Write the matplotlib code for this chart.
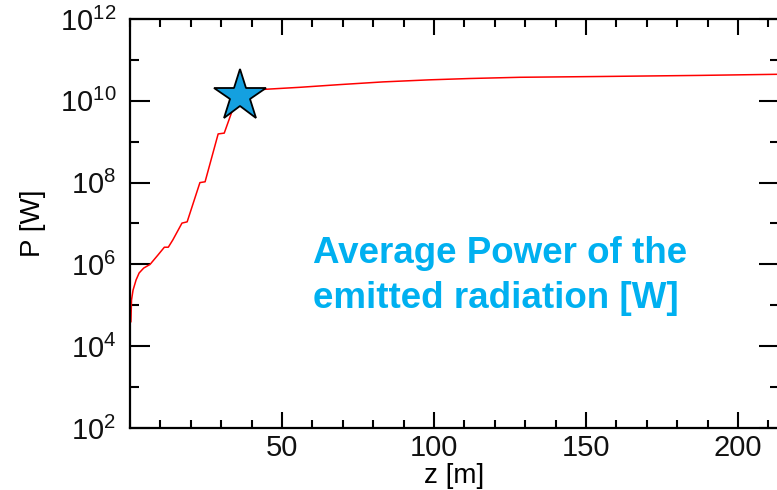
import matplotlib
matplotlib.use("Agg")
import matplotlib.pyplot as plt
from matplotlib.ticker import FixedLocator, FixedFormatter, MultipleLocator

plt.rcParams['font.family'] = ['Liberation Sans', 'DejaVu Sans']
plt.rcParams['mathtext.fontset'] = 'custom'
plt.rcParams['mathtext.rm'] = 'Liberation Sans'
plt.rcParams['mathtext.it'] = 'Liberation Sans:italic'
plt.rcParams['mathtext.bf'] = 'Liberation Sans:bold'

# Undulator coordinate z [m] and average radiated power P [W] (log10)
z = [0.3, 0.5, 1.0, 2.0, 3.0, 4.5, 6.6, 9.2, 11.3, 12.6, 14.1, 17.1, 18.8,
     23.0, 24.7, 29.0, 31.0, 33.5, 36.2, 40.0, 44.4, 55.9, 69.0, 83.2, 98.7,
     111.8, 128.3, 154.6, 187.5, 213.0]
log_p = [4.6, 5.13, 5.37, 5.62, 5.79, 5.91, 6.0, 6.23, 6.42, 6.42, 6.6, 7.01,
         7.04, 8.0, 8.02, 9.19, 9.21, 9.73, 10.12, 10.25, 10.281, 10.33,
         10.396, 10.462, 10.513, 10.545, 10.575, 10.594, 10.621, 10.648]
power = [10 ** v for v in log_p]

# Saturation point
z_sat = 36.2
p_sat = 10 ** 10.12

x_major = [50, 100, 150, 200]
x_major_labels = ['50', '100', '150', '200']
y_major = [1e2, 1e4, 1e6, 1e8, 1e10, 1e12]
y_major_labels = [r'$\mathregular{10^{2}}$', r'$\mathregular{10^{4}}$',
                  r'$\mathregular{10^{6}}$', r'$\mathregular{10^{8}}$',
                  r'$\mathregular{10^{10}}$', r'$\mathregular{10^{12}}$']
y_minor = [1e3, 1e5, 1e7, 1e9, 1e11]

fig = plt.figure(figsize=(7.77, 4.90), dpi=100)
ax = fig.add_axes([130 / 777, 62 / 490, 649 / 777, 409 / 490])

ax.plot(z, power, color='#ff0000', lw=1.1)
ax.plot([z_sat], [p_sat], marker='*', markersize=39, markerfacecolor='#14a0e0',
        markeredgecolor='black', markeredgewidth=1.3, linestyle='none', zorder=5)

ax.set_yscale('log')
ax.set_xlim(0, 213.5)
ax.set_ylim(1e2, 1e12)

ax.xaxis.set_major_locator(FixedLocator(x_major))
ax.xaxis.set_major_formatter(FixedFormatter(x_major_labels))
ax.xaxis.set_minor_locator(MultipleLocator(10))
ax.yaxis.set_major_locator(FixedLocator(y_major))
ax.yaxis.set_major_formatter(FixedFormatter(y_major_labels))
ax.yaxis.set_minor_locator(FixedLocator(y_minor))
ax.yaxis.set_minor_formatter(FixedFormatter([''] * len(y_minor)))

for s in ax.spines.values():
    s.set_linewidth(1.6)

ax.tick_params(axis='both', which='both', direction='in', top=True, right=True,
               width=1.5, color='black', labelsize=21, labelcolor='#111111')
ax.tick_params(axis='x', which='major', length=11.5, pad=4)
ax.tick_params(axis='x', which='minor', length=6)
ax.tick_params(axis='y', which='major', length=14.4, pad=10)
ax.tick_params(axis='y', which='minor', length=6.5)

ax.set_xlabel('z [m]', fontsize=20, labelpad=1)
ax.set_ylabel('P [W]', fontsize=20, labelpad=10)

note_color = '#00b0f0'
ax.text(313 / 777, 1 - 263 / 490, 'Average Power of the',
        transform=fig.transFigure, fontsize=26.5, fontweight='bold',
        color=note_color, ha='left', va='baseline')
ax.text(313 / 777, 1 - 308 / 490, 'emitted radiation [W]',
        transform=fig.transFigure, fontsize=26.5, fontweight='bold',
        color=note_color, ha='left', va='baseline')

fig.savefig('out.png', dpi=100)
